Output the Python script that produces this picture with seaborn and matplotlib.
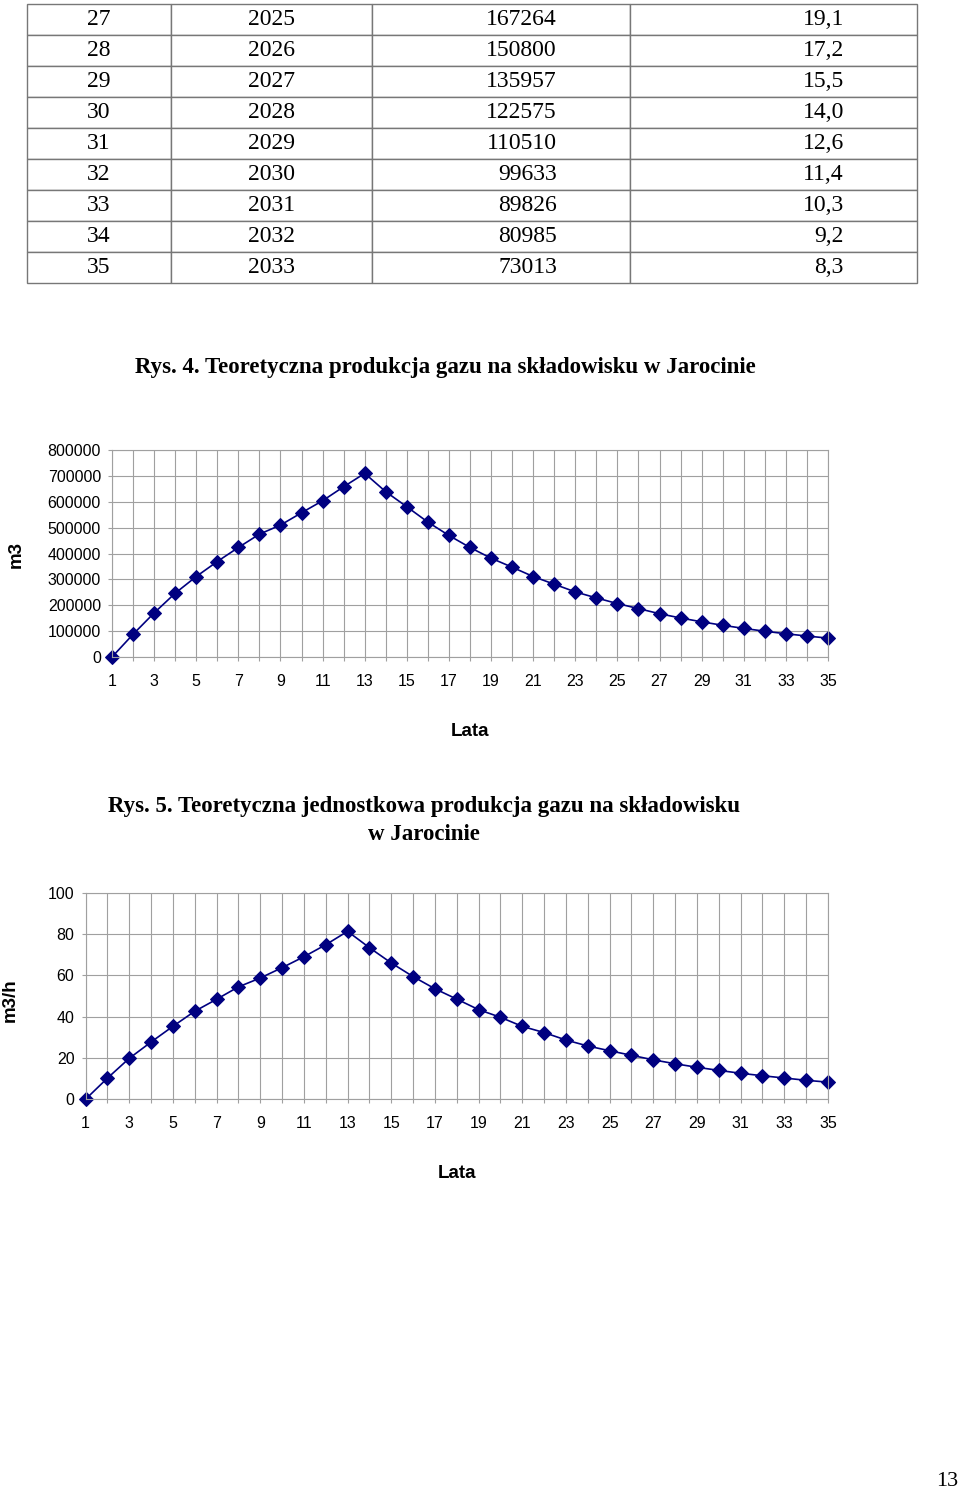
# =========================================================
# TEORETYCZNA PRODUKCJA GAZU - SKLADOWISKO W JAROCINIE
# =========================================================

import matplotlib
matplotlib.use("Agg")

import matplotlib.pyplot as plt
import seaborn as sns

# =========================
# DATA
# =========================

# table (rows 27..35)
tab_lp = [27, 28, 29, 30, 31, 32, 33, 34, 35]
tab_rok = [2025, 2026, 2027, 2028, 2029, 2030, 2031, 2032, 2033]
tab_m3 = [167264, 150800, 135957, 122575, 110510, 99633, 89826, 80985, 73013]
tab_m3h = ["19,1", "17,2", "15,5", "14,0", "12,6", "11,4", "10,3", "9,2", "8,3"]

# charts
lata = list(range(1, 36))

m3_rok = [0, 87700, 170300, 246400, 311000, 369000, 423200, 474800, 509700,
          557400, 603900, 658000, 709700, 638700, 580600, 521300, 469700,
          423200, 381900, 347100, 311000, 281300, 251600, 228400, 206500,
          187100, 167264, 150800, 135957, 122575, 110510, 99633, 89826,
          80985, 73013]

m3_h = [0, 10.2, 19.8, 27.7, 35.3, 42.6, 48.4, 54.4, 58.7, 63.7, 69.0, 74.8,
        81.3, 73.4, 66.0, 59.4, 53.5, 48.5, 43.4, 39.7, 35.3, 32.3, 28.7,
        25.8, 23.5, 21.3, 19.1, 17.2, 15.5, 14.0, 12.6, 11.4, 10.3, 9.2, 8.3]

caption_4 = "Rys. 4. Teoretyczna produkcja gazu na składowisku w Jarocinie"
caption_5 = "Rys. 5. Teoretyczna jednostkowa produkcja gazu na składowisku\nw Jarocinie"

# =========================
# STYLE
# =========================

sns.set_theme(style="white")
plt.rcParams['font.family'] = ['Liberation Sans', 'DejaVu Sans']
plt.rcParams['text.color'] = 'black'

SERIF = ['Liberation Serif', 'DejaVu Serif']
NAVY = '#000080'
GRID = '#a0a0a0'

fig = plt.figure(figsize=(9.6, 14.92), dpi=100)

# =========================
# TABLE
# =========================

ax_t = fig.add_axes([0.0281, 0.8103, 0.9271, 0.187])
ax_t.axis('off')

cell_text = [[str(a), str(b), str(c), d]
             for a, b, c, d in zip(tab_lp, tab_rok, tab_m3, tab_m3h)]

col_w = [144, 201, 258, 287]

tab = ax_t.table(
    cellText=cell_text,
    colWidths=[w / sum(col_w) for w in col_w],
    cellLoc='center',
    bbox=[0, 0, 1, 1]
)
tab.auto_set_font_size(False)
tab.set_fontsize(17)

for (r, c), cell in tab.get_celld().items():
    cell.set_edgecolor('#777777')
    cell.set_linewidth(1)
    cell.get_text().set_fontfamily(SERIF)
    cell.get_text().set_color('black')
    if c >= 2:
        cell.get_text().set_horizontalalignment('right')
        cell.PAD = 73 / col_w[c]

# =========================
# CHART HELPER
# =========================

def draw_chart(ax, y, ymax, ystep):

    sns.lineplot(
        x=lata,
        y=y,
        ax=ax,
        color=NAVY,
        linewidth=1.2,
        marker='D',
        markersize=7,
        markeredgecolor=NAVY,
        clip_on=False
    )

    ax.set_xlim(1, 35)
    ax.set_ylim(0, ymax)

    ax.set_xticks(lata)
    ax.set_xticklabels([str(v) if v % 2 == 1 else "" for v in lata])
    ax.set_yticks(range(0, ymax + 1, ystep))

    ax.grid(True, color=GRID, linewidth=0.8)
    for s in ax.spines.values():
        s.set_color(GRID)
        s.set_linewidth(0.8)

    ax.tick_params(axis='both', which='major', length=3, width=0.8,
                   color=GRID, labelsize=11.5, labelcolor='black',
                   bottom=True, left=True)
    ax.tick_params(axis='x', pad=9)
    ax.tick_params(axis='y', pad=5)

    ax.set_xlabel("")
    ax.set_ylabel("")

# =========================
# CHART 1 - m3
# =========================

fig.text(445.5, 1492 - 368, caption_4, transform=None, ha='center',
         va='center', family=SERIF, fontweight='bold', fontsize=16.5)

ax1 = fig.add_axes([112 / 960, 1 - 657 / 1492, 716 / 960, 207 / 1492])
draw_chart(ax1, m3_rok, 800000, 100000)

fig.text(16, 1492 - 555, "m3", transform=None, rotation=90, ha='center',
         va='center', fontweight='bold', fontsize=13.5)
fig.text(470, 1492 - 731, "Lata", transform=None, ha='center', va='center',
         fontweight='bold', fontsize=13.5)

# =========================
# CHART 2 - m3/h
# =========================

fig.text(424, 1492 - 820.5, caption_5, transform=None, ha='center',
         va='center', family=SERIF, fontweight='bold', fontsize=16.5,
         linespacing=1.38)

ax2 = fig.add_axes([85.5 / 960, 1 - 1099.3 / 1492, 742.5 / 960, 206.6 / 1492])
draw_chart(ax2, m3_h, 100, 20)

fig.text(10, 1492 - 1000, "m3/h", transform=None, rotation=90, ha='center',
         va='center', fontweight='bold', fontsize=13.5)
fig.text(457, 1492 - 1173, "Lata", transform=None, ha='center', va='center',
         fontweight='bold', fontsize=13.5)

# =========================
# PAGE NUMBER
# =========================

fig.text(947, 1492 - 1482, "13", transform=None, ha='center', va='center',
         family=SERIF, fontsize=16)

# =========================
# SAVE
# =========================

fig.savefig("out.png", dpi=100)
